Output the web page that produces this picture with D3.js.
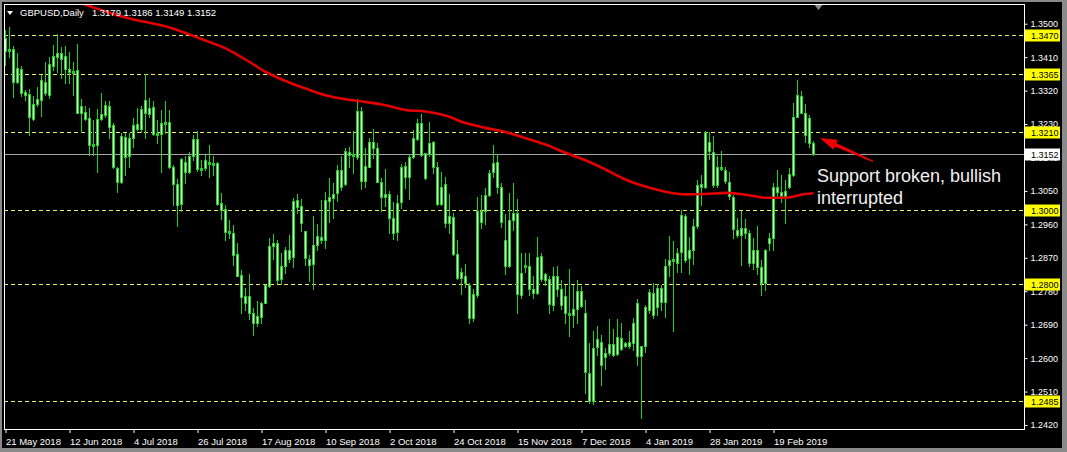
<!DOCTYPE html>
<html><head><meta charset="utf-8">
<script src="https://cdn.jsdelivr.net/npm/d3@7"></script>
<style>html,body{margin:0;padding:0;background:#000;overflow:hidden}svg{display:block}</style>
</head><body>
<svg id="c" width="1067" height="452"></svg>
<script>
const symbolTitle = "GBPUSD,Daily";
const titleQuote = "1.3179 1.3186 1.3149 1.3152";

const opens = [1.3462,1.3432,1.3432,1.3381,1.3379,1.3318,1.3312,1.3245,1.3285,1.3296,
1.3314,1.3310,1.3388,1.3423,1.3422,1.3414,1.3379,1.3375,1.3377,1.3280,
1.3263,1.3247,1.3172,1.3174,1.3244,1.3282,1.3280,1.3229,1.3076,1.3076,
1.3196,1.3144,1.3193,1.3219,1.3217,1.3296,1.3274,1.3276,1.3202,1.3205,
1.3237,1.3236,1.3117,1.3014,1.3015,1.3101,1.3101,1.3190,1.3190,1.3108,
1.3112,1.3130,1.3127,1.3126,1.3018,1.3002,1.2944,1.2937,1.2882,1.2825,
1.2769,1.2769,1.2722,1.2697,1.2713,1.2749,1.2796,1.2912,1.2910,1.2813,
1.2848,1.2869,1.2873,1.3027,1.3011,1.2943,1.2852,1.2854,1.2905,1.2918,
1.2918,1.3025,1.3031,1.3045,1.3061,1.3069,1.3157,1.3144,1.3142,1.3266,
1.3079,1.3117,1.3182,1.3166,1.3076,1.3043,1.3043,1.2978,1.2940,1.3022,
1.3090,1.3088,1.3142,1.3190,1.3233,1.3153,1.3151,1.3184,1.3115,1.3016,
1.3069,1.2964,1.2982,1.2881,1.2816,1.2823,1.2798,1.2709,1.2771,1.2997,
1.2997,1.3040,1.3101,1.3128,1.3061,1.2919,1.2848,1.2973,1.2991,1.2771,
1.2852,1.2850,1.2787,1.2776,1.2877,1.2828,1.2813,1.2744,1.2823,1.2787,
1.2769,1.2724,1.2717,1.2733,1.2782,1.2722,1.2561,1.2487,1.2652,1.2646,
1.2604,1.2616,1.2639,1.2613,1.2655,1.2643,1.2634,1.2643,1.2750,1.2607,
1.2634,1.2731,1.2776,1.2740,1.2753,1.2753,1.2852,1.2868,1.2858,1.2886,
1.2984,1.2870,1.2892,1.2957,1.3063,1.3063,1.3184,1.3157,1.3067,1.3117,
1.3108,1.3076,1.3034,1.2946,1.2933,1.2951,1.2939,1.2858,1.2892,1.2846,
1.2803,1.2910,1.2924,1.3061,1.3049,1.3038,1.3061,1.3094,1.3251,1.3307,
1.3260,1.3247,1.3179];

const highs = [1.3484,1.3492,1.3441,1.3422,1.3388,1.3323,1.3325,1.3307,1.3332,1.3363,
1.3399,1.3413,1.3444,1.3474,1.3438,1.3441,1.3426,1.3399,1.3447,1.3298,
1.3280,1.3274,1.3242,1.3271,1.3314,1.3292,1.3293,1.3233,1.3117,1.3206,
1.3206,1.3206,1.3247,1.3274,1.3280,1.3365,1.3301,1.3292,1.3242,1.3269,
1.3293,1.3269,1.3121,1.3083,1.3139,1.3144,1.3157,1.3202,1.3213,1.3135,
1.3148,1.3175,1.3144,1.3130,1.3045,1.3014,1.2973,1.2960,1.2912,1.2839,
1.2789,1.2828,1.2735,1.2756,1.2753,1.2798,1.2924,1.2935,1.2919,1.2883,
1.2901,1.2933,1.3031,1.3043,1.3029,1.2944,1.2879,1.2984,1.2962,1.3027,
1.3049,1.3085,1.3072,1.3121,1.3144,1.3166,1.3170,1.3213,1.3298,1.3276,
1.3168,1.3195,1.3218,1.3179,1.3085,1.3110,1.3052,1.3022,1.3040,1.3124,
1.3130,1.3151,1.3215,1.3244,1.3258,1.3154,1.3238,1.3187,1.3130,1.3103,
1.3088,1.3042,1.2993,1.2919,1.2843,1.2854,1.2803,1.2787,1.3034,1.3040,
1.3058,1.3108,1.3175,1.3151,1.3072,1.2989,1.3047,1.3072,1.3029,1.2885,
1.2883,1.2883,1.2821,1.2927,1.2883,1.2830,1.2821,1.2846,1.2849,1.2812,
1.2798,1.2840,1.2798,1.2812,1.2796,1.2758,1.2641,1.2673,1.2688,1.2664,
1.2628,1.2706,1.2679,1.2706,1.2697,1.2646,1.2673,1.2709,1.2761,1.2634,
1.2744,1.2787,1.2803,1.2801,1.2798,1.2867,1.2930,1.2917,1.2897,1.3000,
1.2989,1.2928,1.2975,1.3081,1.3094,1.3213,1.3211,1.3199,1.3144,1.3159,
1.3117,1.3103,1.3040,1.2978,1.2998,1.2975,1.2946,1.2924,1.2957,1.2865,
1.2894,1.2937,1.3072,1.3108,1.3094,1.3081,1.3112,1.3289,1.3350,1.3321,
1.3285,1.3256,1.3186];

const lows = [1.3390,1.3413,1.3305,1.3341,1.3307,1.3296,1.3202,1.3242,1.3280,1.3253,
1.3310,1.3301,1.3377,1.3372,1.3354,1.3343,1.3341,1.3310,1.3260,1.3211,
1.3242,1.3148,1.3148,1.3101,1.3242,1.3251,1.3193,1.3112,1.3049,1.3072,
1.3094,1.3117,1.3170,1.3215,1.3211,1.3193,1.3251,1.3202,1.3179,1.3101,
1.3206,1.3112,1.3014,1.2958,1.2996,1.3072,1.3099,1.3135,1.3106,1.3094,
1.3108,1.3090,1.3094,1.3014,1.2975,1.2918,1.2924,1.2852,1.2821,1.2722,
1.2731,1.2706,1.2664,1.2688,1.2697,1.2749,1.2794,1.2867,1.2803,1.2801,
1.2830,1.2861,1.2846,1.2991,1.2944,1.2852,1.2810,1.2787,1.2892,1.2912,
1.2897,1.2969,1.2978,1.3025,1.3054,1.3067,1.3117,1.3099,1.3136,1.3056,
1.3061,1.3115,1.3139,1.3074,1.2998,1.3012,1.2939,1.2922,1.2919,1.3005,
1.3058,1.3030,1.3139,1.3188,1.3145,1.3083,1.3145,1.3099,1.3014,1.3014,
1.2955,1.2937,1.2879,1.2813,1.2774,1.2794,1.2695,1.2700,1.2767,1.2951,
1.2962,1.3038,1.3090,1.3045,1.2955,1.2827,1.2846,1.2946,1.2724,1.2762,
1.2834,1.2771,1.2762,1.2774,1.2810,1.2798,1.2724,1.2731,1.2769,1.2733,
1.2697,1.2661,1.2686,1.2697,1.2738,1.2507,1.2480,1.2478,1.2610,1.2529,
1.2571,1.2610,1.2607,1.2610,1.2623,1.2632,1.2628,1.2623,1.2583,1.2439,
1.2619,1.2722,1.2709,1.2718,1.2731,1.2713,1.2821,1.2673,1.2834,1.2834,
1.2861,1.2828,1.2855,1.2951,1.3014,1.3058,1.3136,1.3063,1.3063,1.3108,
1.3072,1.3029,1.2924,1.2927,1.2852,1.2924,1.2848,1.2840,1.2828,1.2771,
1.2785,1.2892,1.2892,1.3038,1.3022,1.2966,1.3058,1.3092,1.3249,1.3260,
1.3184,1.3170,1.3149];

const closes = [1.3429,1.3429,1.3345,1.3345,1.3314,1.3309,1.3249,1.3285,1.3299,1.3350,
1.3345,1.3393,1.3414,1.3413,1.3406,1.3379,1.3372,1.3370,1.3262,1.3262,
1.3244,1.3174,1.3178,1.3245,1.3258,1.3256,1.3224,1.3115,1.3112,1.3199,
1.3142,1.3193,1.3229,1.3231,1.3271,1.3260,1.3258,1.3205,1.3208,1.3233,
1.3232,1.3115,1.3070,1.3070,1.3136,1.3128,1.3145,1.3144,1.3109,1.3112,
1.3135,1.3124,1.3121,1.3016,1.3000,1.2942,1.2939,1.2879,1.2822,1.2765,
1.2751,1.2722,1.2697,1.2715,1.2751,1.2798,1.2903,1.2903,1.2812,1.2849,
1.2892,1.2892,1.3024,1.3009,1.2964,1.2870,1.2867,1.2905,1.2930,1.2927,
1.3027,1.3034,1.3043,1.3108,1.3108,1.3159,1.3147,1.3150,1.3266,1.3079,
1.3119,1.3182,1.3166,1.3076,1.3034,1.3034,1.2978,1.2939,1.3020,1.3115,
1.3119,1.3142,1.3193,1.3233,1.3148,1.3085,1.3181,1.3115,1.3015,1.3061,
1.2964,1.2984,1.2881,1.2816,1.2834,1.2803,1.2709,1.2774,1.2996,1.2969,
1.3040,1.3099,1.3126,1.3061,1.2967,1.2848,1.2973,1.2991,1.2774,1.2830,
1.2846,1.2787,1.2776,1.2874,1.2813,1.2812,1.2746,1.2823,1.2787,1.2743,
1.2724,1.2717,1.2733,1.2782,1.2742,1.2565,1.2487,1.2628,1.2631,1.2583,
1.2616,1.2639,1.2610,1.2657,1.2625,1.2634,1.2644,1.2697,1.2607,1.2634,
1.2738,1.2778,1.2718,1.2789,1.2789,1.2848,1.2865,1.2864,1.2883,1.2987,
1.2865,1.2892,1.2957,1.3067,1.3070,1.3211,1.3160,1.3067,1.3117,1.3110,
1.3079,1.3038,1.2948,1.2933,1.2951,1.2937,1.2857,1.2892,1.2846,1.2803,
1.2892,1.2924,1.3061,1.3049,1.3038,1.3052,1.3097,1.3251,1.3310,1.3262,
1.3202,1.3181,1.3152];

// moving average (red line) read at sample bars
const maIndex  = [19, 30, 42, 49, 55, 60, 65, 70, 75, 80, 85, 90, 95, 100, 105, 110, 115, 120, 125, 130, 135, 140, 145, 150, 155, 160, 165, 170, 175, 180, 185, 190, 195, 200, 202];
const maValues = [1.3556, 1.3518, 1.3488, 1.3460, 1.3435, 1.3405, 1.3372, 1.3347, 1.3327, 1.3309, 1.3298, 1.3291, 1.3282, 1.3269, 1.3265, 1.3254, 1.3234, 1.3221, 1.3210, 1.3193, 1.3176, 1.3154, 1.3134, 1.3109, 1.3082, 1.3063, 1.3049, 1.3042, 1.3043, 1.3046, 1.3041, 1.3033, 1.3033, 1.3043, 1.3045];

const dateTickIndex  = [0, 16, 32, 48, 64, 80, 96, 112, 128, 144, 160, 176, 192];
const dateTickLabels = ["21 May 2018","12 Jun 2018","4 Jul 2018","26 Jul 2018","17 Aug 2018","10 Sep 2018","2 Oct 2018","24 Oct 2018","15 Nov 2018","7 Dec 2018","4 Jan 2019","28 Jan 2019","19 Feb 2019"];
const priceTicks = [1.3500,1.3410,1.3320,1.3230,1.3140,1.3050,1.2960,1.2870,1.2780,1.2690,1.2600,1.2510,1.2420];
const levelLines = [1.3470, 1.3365, 1.3210, 1.3000, 1.2800, 1.2485];
const currentPrice = 1.3152;
const noteLines = ["Support broken, bullish", "interrupted"];
const noteTarget = [202, 1.3194];

// ---------------- drawing ----------------
const W = 1067, H = 452;
const P = {left: 4, top: 5, right: 1024, bottom: 429};
const FONT = "'Liberation Sans', Arial, sans-serif";
const svg = d3.select("#c");

svg.append("rect").attr("width", W).attr("height", H).attr("fill", "#8a8a8a");
svg.append("rect").attr("x", 2).attr("y", 2).attr("width", 1060).attr("height", 446).attr("fill", "#000");

const x = d3.scaleLinear().domain([0, opens.length - 1]).range([5.5, 5.5 + 4 * (opens.length - 1)]);
const y = d3.scaleLinear().domain([1.2420, 1.3500]).range([425.5, 24.2]);
const fmt = d3.format(".4f");

svg.append("clipPath").attr("id", "plotclip").append("rect")
  .attr("x", P.left).attr("y", P.top).attr("width", P.right - P.left).attr("height", P.bottom - P.top);
const g = svg.append("g").attr("clip-path", "url(#plotclip)");

// horizontal level lines
g.selectAll("line.lvl").data(levelLines).join("line").attr("class", "lvl")
  .attr("x1", P.left).attr("x2", P.right)
  .attr("y1", d => Math.round(y(d)) + 0.5).attr("y2", d => Math.round(y(d)) + 0.5)
  .attr("stroke", "#eeee66").attr("stroke-width", 1).attr("stroke-dasharray", "4,3");

g.append("line")
  .attr("x1", P.left).attr("x2", P.right)
  .attr("y1", Math.round(y(currentPrice)) + 0.5).attr("y2", Math.round(y(currentPrice)) + 0.5)
  .attr("stroke", "#a6a6a6").attr("stroke-width", 1);

// candles
const idx = d3.range(opens.length);
const cg = g.append("g");
cg.selectAll("line.wick").data(idx).join("line").attr("class", "wick")
  .attr("x1", i => x(i)).attr("x2", i => x(i))
  .attr("y1", i => Math.round(y(highs[i]))).attr("y2", i => Math.round(y(lows[i])) + 1)
  .attr("stroke", "#22d022").attr("stroke-width", 1);
cg.selectAll("rect.body").data(idx).join("rect").attr("class", "body")
  .attr("x", i => x(i) - 1.5).attr("width", 3)
  .attr("y", i => Math.round(y(Math.max(opens[i], closes[i]))))
  .attr("height", i => Math.max(1, Math.round(y(Math.min(opens[i], closes[i]))) - Math.round(y(Math.max(opens[i], closes[i]))) + 1))
  .attr("fill", "#22d022");
cg.selectAll("rect.inner").data(idx.filter(i => Math.round(y(Math.min(opens[i], closes[i]))) - Math.round(y(Math.max(opens[i], closes[i]))) >= 3))
  .join("rect").attr("class", "inner")
  .attr("x", i => x(i) - 0.5).attr("width", 1)
  .attr("y", i => Math.round(y(Math.max(opens[i], closes[i]))) + 1)
  .attr("height", i => Math.round(y(Math.min(opens[i], closes[i]))) - Math.round(y(Math.max(opens[i], closes[i]))) - 1)
  .attr("fill", "#c8ffc8");

// moving average
const maLine = d3.line().x(d => x(d[0])).y(d => y(d[1])).curve(d3.curveMonotoneX);
g.append("path").datum(maIndex.map((d, k) => [d, maValues[k]]))
  .attr("d", maLine).attr("fill", "none").attr("stroke", "#e40000").attr("stroke-width", 2.6);

// frame
const fr = svg.append("g").attr("stroke", "#ffffff").attr("stroke-width", 1);
fr.append("line").attr("x1", P.left + 0.5).attr("x2", P.left + 0.5).attr("y1", P.top).attr("y2", P.bottom + 0.5);
fr.append("line").attr("x1", P.left).attr("x2", P.right + 0.5).attr("y1", P.top - 0.5).attr("y2", P.top - 0.5);

// right price axis
const ya = svg.append("g").attr("transform", `translate(${P.right + 0.5},0)`)
  .call(d3.axisRight(y).tickValues(priceTicks).tickFormat(fmt).tickSize(3).tickPadding(3).offset(0));
ya.select(".domain").remove();
ya.append("line").attr("x1", 0).attr("x2", 0).attr("y1", P.top - 1).attr("y2", P.bottom + 1).attr("stroke", "#fff");
ya.selectAll(".tick line").attr("stroke", "#fff");
ya.selectAll(".tick text").attr("fill", "#fff").attr("font-family", FONT).attr("font-size", "9px");

// highlighted price labels
const hl = svg.append("g");
function priceTag(v, bg) {
  const yy = Math.round(y(v));
  hl.append("rect").attr("x", P.right + 1).attr("y", yy - 5.5).attr("width", 35).attr("height", 12).attr("fill", bg);
  hl.append("text").attr("x", P.right + 7).attr("y", yy + 3.5).attr("fill", "#000")
    .attr("font-family", FONT).attr("font-size", "9px").text(fmt(v));
}
levelLines.forEach(v => priceTag(v, "#ffff00"));
priceTag(currentPrice, "#ffffff");

// bottom time axis
const xa = svg.append("g").attr("transform", `translate(0,${P.bottom})`)
  .call(d3.axisBottom(x).tickValues(dateTickIndex).tickFormat((d, k) => dateTickLabels[k]).tickSize(4).tickPadding(3));
xa.select(".domain").remove();
xa.append("line").attr("x1", P.left).attr("x2", P.right + 1).attr("y1", 0.5).attr("y2", 0.5).attr("stroke", "#fff");
xa.selectAll(".tick line").attr("stroke", "#fff");
xa.selectAll(".tick text").attr("fill", "#fff").attr("font-family", FONT).attr("font-size", "9.5px")
  .attr("text-anchor", "start").attr("x", 0).attr("dy", "0.9em");

// title
svg.append("path").attr("d", "M7,11 L13,11 L10,15 Z").attr("fill", "#fff");
const tt = svg.append("text").attr("x", 20).attr("y", 16).attr("fill", "#fff")
  .attr("font-family", FONT).attr("font-size", "9.5px");
tt.append("tspan").text(symbolTitle);
tt.append("tspan").attr("dx", 8).text(titleQuote);

// chart shift marker
svg.append("path").attr("d", `M${x(opens.length - 1) + 1},5 L${x(opens.length - 1) + 9},5 L${x(opens.length - 1) + 5},10 Z`).attr("fill", "#8a8a8a");

// annotation arrow
const tip = [x(noteTarget[0]) + 6.5, y(noteTarget[1])];
const tail = [tip[0] + 53, tip[1] + 23.5];
const len = Math.hypot(tail[0] - tip[0], tail[1] - tip[1]);
const u = [(tip[0] - tail[0]) / len, (tip[1] - tail[1]) / len];
const n = [-u[1], u[0]];
const bc = [tip[0] - 17 * u[0], tip[1] - 17 * u[1]];
const pt = (c, w) => [c[0] + w * n[0], c[1] + w * n[1]];
const arrowPts = [tip, pt(bc, 5.5), pt(bc, 1.8), pt(tail, 0.7), pt(tail, -0.7), pt(bc, -1.8), pt(bc, -5.5)];
svg.append("path").attr("d", "M" + arrowPts.map(p => p[0].toFixed(1) + "," + p[1].toFixed(1)).join("L") + "Z")
  .attr("fill", "#ee0000");

svg.selectAll("text.note").data(noteLines).join("text").attr("class", "note")
  .attr("x", 817).attr("y", (d, k) => 182 + k * 21.5)
  .attr("fill", "#f0f0f0").attr("font-family", FONT).attr("font-size", "18px").text(d => d);
</script>
</body></html>
